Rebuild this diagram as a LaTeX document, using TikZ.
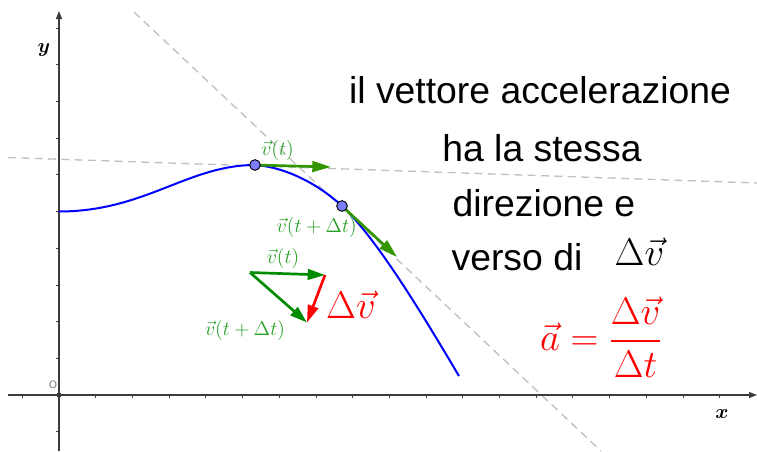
\RequirePackage{fix-cm}
\documentclass[tikz,border=0pt]{standalone}
\usepackage{fontspec}
\setmainfont{Liberation Sans}
\usepackage{amsmath}
\usepackage{bm}
\usetikzlibrary{arrows.meta}
\definecolor{vg}{RGB}{0,140,0}
\definecolor{vtg}{RGB}{50,150,0}
\definecolor{lg}{RGB}{40,160,40}
\definecolor{ptc}{RGB}{125,125,255}
\definecolor{dg}{RGB}{192,192,192}
\definecolor{axc}{RGB}{60,60,60}
\begin{document}
\begin{tikzpicture}[x=0.75pt,y=-0.75pt,
  axis/.style={draw=axc, line width=0.8pt, -{Triangle[length=6pt,width=4.5pt]}},
  tickmark/.style={draw=axc, line width=0.6pt},
  tanline/.style={draw=dg, dash pattern=on 6pt off 4pt, line width=1pt},
  curv/.style={draw=blue, line width=1.5pt},
  tanvec/.style={draw=vtg, line width=2pt, -{Triangle[length=14pt,width=8pt]}},
  trivec/.style={draw=vg, line width=2pt, -{Triangle[length=13pt,width=8pt]}},
  redvec/.style={draw=red, line width=2pt, -{Triangle[length=13pt,width=8pt]}},
  glabel/.style={text=lg, font=\fontsize{15}{17}\selectfont, inner sep=0pt},
  bigtxt/.style={font=\fontsize{28}{34}\selectfont, inner sep=0pt},
  bigmath/.style={font=\fontsize{29}{34}\selectfont, inner sep=0pt},
  axlabel/.style={font=\fontsize{15}{17}\selectfont, inner sep=0pt},
  ptdot/.style={circle, fill=ptc, draw=black, line width=0.7pt, minimum size=8pt, inner sep=0pt},
]
\useasboundingbox (0,0) rectangle (757,451);
% tangent lines
\coordinate (h1) at (8,157.5);
\coordinate (h2) at (757,183);
\coordinate (d1) at (134,12);
\coordinate (d2) at (601,451);
\draw[tanline] (h1) -- (h2);
\draw[tanline] (d1) -- (d2);
% axes
\coordinate (xa) at (8,395);
\coordinate (xb) at (757,395);
\coordinate (ya) at (59,451);
\coordinate (yb) at (59,11);
\draw[axis] (xa) -- (xb);
\draw[axis] (ya) -- (yb);
\foreach \k in {-1,1,2,...,18} {\draw[tickmark] ({59+36.7*\k},394) -- ({59+36.7*\k},398);}
\foreach \k in {-1,1,2,...,10} {\draw[tickmark] (56,{395-36.7*\k}) -- (60,{395-36.7*\k});}
\fill[axc] (59,395) circle (2.6);
\node[text=black!55, font=\sffamily\fontsize{8}{8}\selectfont, inner sep=0pt] (orig) at (53,385) {O};
\node[axlabel] (xl) at (722,414) {$\bm{x}$};
\node[axlabel] (yl) at (44,50) {$\bm{y}$};
% curve
\coordinate (C0) at (59,211.5);
\coordinate (P1) at (255,165);
\coordinate (P2) at (342,206);
\coordinate (C3) at (459,376);
\draw[curv] (C0) .. controls (145,211.5) and (188,165) .. (P1)
  .. controls (285,167) and (318,183.7) .. (P2)
  .. controls (377,238.5) and (424,317) .. (C3);
% tangent vectors
\coordinate (P1e) at (331,167);
\coordinate (P2e) at (397,257);
\draw[tanvec] (P1) -- (P1e);
\draw[tanvec] (P2) -- (P2e);
\node[ptdot] (Q1) at (P1) {};
\node[ptdot] (Q2) at (P2) {};
\node[glabel] (lv1) at (277.5,150) {$\vec v(t)$};
\node[glabel] (lv2) at (316.7,227.5) {$\vec v(t+\Delta t)$};
% triangle
\coordinate (T0) at (250,272.5);
\coordinate (T1) at (325,275);
\coordinate (T2) at (307,322.5);
\draw[trivec] (T0) -- (T1);
\draw[trivec] (T0) -- (T2);
\draw[redvec] (T1) -- (T2);
\node[glabel] (lt1) at (283,258) {$\vec v(t)$};
\node[glabel] (lt2) at (245,330) {$\vec v(t+\Delta t)$};
\node[bigmath, text=red] (dv) at (351,305) {$\Delta\vec v$};
% text
\node[bigtxt] (t1) at (540,90) {il vettore accelerazione};
\node[bigtxt] (t2) at (542,148) {ha la stessa};
\node[bigtxt] (t3) at (544,203) {direzione e};
\node[bigtxt] (t4) at (517,257) {verso di};
\node[bigmath] (dvb) at (639.5,252) {$\Delta\vec v$};
\node[bigmath, text=red] (ac) at (601,337) {$\displaystyle\vec a=\frac{\Delta\vec v}{\Delta t}$};
\end{tikzpicture}
\end{document}
